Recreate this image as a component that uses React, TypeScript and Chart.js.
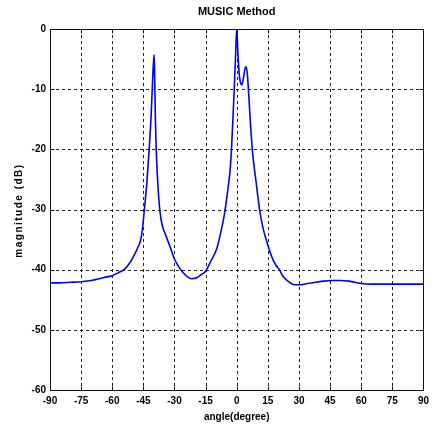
import React, { useEffect, useRef } from "react";
import { Chart, registerables } from "chart.js";

Chart.register(...registerables);

const TITLE = "MUSIC Method";
const X_LABEL = "angle(degree)";
const Y_LABEL = "magnitude (dB)";

const angles: number[] = [
  -90, -85, -80, -75, -70, -67.5, -64, -60, -57, -54, -51, -49.3, -47.5, -46.4, -45.6, -44.5, -43.3, -42.2, -41.2, -40.6,
  -40.2, -39.8, -39.5, -39.2, -38.8, -38.3, -37.6, -37.0, -36, -34.2, -32, -30.2, -28, -26.3, -24, -21.7, -19, -17, -15.1, -12.5,
  -9.6, -7.5, -5.8, -4.2, -3.2, -2.6, -1.7, -0.9, -0.4, 0, 0.5, 1, 1.6, 2.5, 3.3, 4, 4.6, 5.2, 5.8, 6.4,
  7.5, 9.4, 11, 12.5, 14.2, 16, 17.4, 19, 20.6, 22.1, 25, 28, 31, 34, 38, 42, 46, 50, 54, 57,
  60, 65, 75, 90,
];

const magnitudes: number[] = [
  -42.2, -42.2, -42.1, -42.0, -41.8, -41.6, -41.3, -41.0, -40.5, -39.9, -38.6, -37.5, -36.2, -35.2, -33.7, -30, -25.5, -20, -14, -9,
  -6, -4.3, -9, -15, -20, -24, -28, -30.3, -32.5, -34.3, -36.3, -38.1, -39.5, -40.3, -41.1, -41.5, -41.3, -40.8, -40.3, -38.6,
  -36.5, -33.5, -30.5, -26.5, -23.5, -20.5, -14, -7.5, -3, 0, -3.5, -6.5, -8.6, -9.3, -8, -6.6, -6.3, -7.8, -11, -14.5,
  -20, -25.6, -30, -32.8, -35, -37, -38.3, -39.3, -40, -41, -42, -42.5, -42.5, -42.3, -42.1, -41.9, -41.8, -41.8, -41.9, -42.1,
  -42.3, -42.4, -42.4, -42.4,
];

const X_MIN = -90;
const X_MAX = 90;
const X_STEP = 15;
const Y_MIN = -60;
const Y_MAX = 0;
const Y_STEP = 10;

const FONT = "'Liberation Sans', Arial, sans-serif";

const framePlugin = {
  id: "matlabFrame",
  beforeDatasetsDraw(chart: any) {
    const { ctx, chartArea, scales } = chart;
    const { left, right, top, bottom } = chartArea;
    const xs = scales.x;
    const ys = scales.y;
    ctx.save();
    ctx.strokeStyle = "#222";
    ctx.lineWidth = 1;
    ctx.setLineDash([3, 3]);
    xs.ticks.forEach((t: any) => {
      const px = Math.round(xs.getPixelForValue(t.value)) + 0.5;
      if (px <= left + 1 || px >= right - 1) return;
      ctx.beginPath();
      ctx.moveTo(px, top);
      ctx.lineTo(px, bottom);
      ctx.stroke();
    });
    ys.ticks.forEach((t: any) => {
      const py = Math.round(ys.getPixelForValue(t.value)) + 0.5;
      if (py <= top + 1 || py >= bottom - 1) return;
      ctx.beginPath();
      ctx.moveTo(left, py);
      ctx.lineTo(right, py);
      ctx.stroke();
    });
    ctx.restore();
  },
  afterDatasetsDraw(chart: any) {
    const { ctx, chartArea, scales } = chart;
    const { left, right, top, bottom } = chartArea;
    const xs = scales.x;
    const ys = scales.y;
    ctx.save();
    ctx.strokeStyle = "#111";
    ctx.lineWidth = 1;
    ctx.setLineDash([]);
    const L = Math.round(left) + 0.5;
    const R = Math.round(right) + 0.5;
    const T = Math.round(top) + 0.5;
    const B = Math.round(bottom) + 0.5;
    ctx.strokeRect(L, T, R - L, B - T);
    const tl = 4;
    xs.ticks.forEach((t: any) => {
      const px = Math.round(xs.getPixelForValue(t.value)) + 0.5;
      ctx.beginPath();
      ctx.moveTo(px, B);
      ctx.lineTo(px, B - tl);
      ctx.moveTo(px, T);
      ctx.lineTo(px, T + tl);
      ctx.stroke();
    });
    ys.ticks.forEach((t: any) => {
      const py = Math.round(ys.getPixelForValue(t.value)) + 0.5;
      ctx.beginPath();
      ctx.moveTo(L, py);
      ctx.lineTo(L + tl, py);
      ctx.moveTo(R, py);
      ctx.lineTo(R - tl, py);
      ctx.stroke();
    });
    ctx.fillStyle = "#000";
    ctx.font = `bold 11px ${FONT}`;
    ctx.textAlign = "center";
    ctx.textBaseline = "middle";
    ctx.fillText(TITLE, (left + right) / 2, 12);
    ctx.save();
    ctx.translate(19, (top + bottom) / 2 + 1);
    ctx.rotate(-Math.PI / 2);
    ctx.font = `bold 10px ${FONT}`;
    try {
      (ctx as any).letterSpacing = "1.5px";
    } catch (e) {}
    ctx.textAlign = "center";
    ctx.textBaseline = "middle";
    ctx.fillText(Y_LABEL, 0, 0);
    ctx.restore();
    ctx.restore();
  },
};

export default function App() {
  const canvasRef = useRef<HTMLCanvasElement | null>(null);

  useEffect(() => {
    const canvas = canvasRef.current;
    if (!canvas) return;
    const data = angles.map((a, i) => ({ x: a, y: magnitudes[i] }));
    const chart = new Chart(canvas, {
      type: "line",
      data: {
        datasets: [
          {
            data,
            borderColor: "#0000ff",
            borderWidth: 1.6,
            pointRadius: 0,
            cubicInterpolationMode: "monotone",
            fill: false,
          },
        ],
      },
      options: {
        responsive: false,
        animation: false,
        events: [],
        layout: { padding: { top: 29, right: 6, left: 0, bottom: 0 } },
        plugins: {
          legend: { display: false },
          tooltip: { enabled: false },
          title: { display: false },
        },
        scales: {
          x: {
            type: "linear",
            min: X_MIN,
            max: X_MAX,
            grid: { display: false, drawTicks: false },
            border: { display: false },
            ticks: {
              stepSize: X_STEP,
              padding: 5,
              color: "#000",
              font: { family: FONT, size: 10, weight: "bold" },
              maxRotation: 0,
              autoSkip: false,
            },
            title: {
              display: true,
              text: X_LABEL,
              color: "#000",
              font: { family: FONT, size: 10, weight: "bold" },
              padding: { top: 0, bottom: 8 },
            },
            afterFit: (scale: any) => {
              scale.height = 41;
            },
          },
          y: {
            type: "linear",
            min: Y_MIN,
            max: Y_MAX,
            grid: { display: false, drawTicks: false },
            border: { display: false },
            ticks: {
              stepSize: Y_STEP,
              padding: 4,
              color: "#000",
              font: { family: FONT, size: 10, weight: "bold" },
              autoSkip: false,
            },
            afterFit: (scale: any) => {
              scale.width = 50;
            },
          },
        },
      },
      plugins: [framePlugin],
    });
    return () => chart.destroy();
  }, []);

  return (
    <div style={{ position: "fixed", left: 0, top: 0, width: 434, height: 431, background: "#fff" }}>
      <canvas ref={canvasRef} width={434} height={431} style={{ display: "block" }} />
    </div>
  );
}
